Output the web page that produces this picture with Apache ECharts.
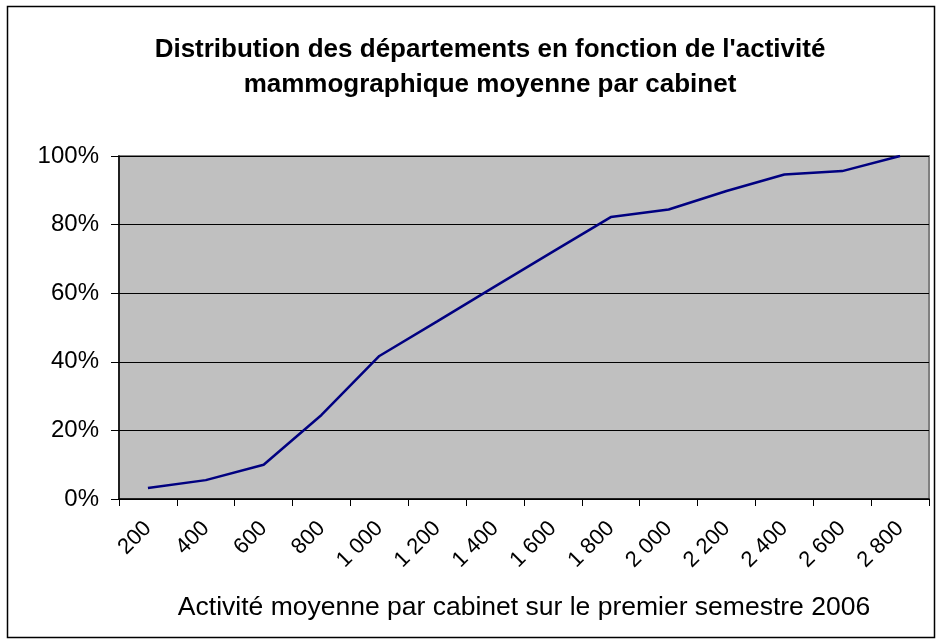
<!DOCTYPE html>
<html>
<head>
<meta charset="utf-8">
<script src="https://cdn.jsdelivr.net/npm/echarts@6/dist/echarts.min.js"></script>
<style>
html,body{margin:0;padding:0;background:#fff;}
#chart{width:938px;height:644px;}
</style>
</head>
<body>
<div id="chart"></div>
<script>
const categories = ['200','400','600','800','1 000','1 200','1 400','1 600','1 800','2 000','2 200','2 400','2 600','2 800'];
const cumulativeShare = [3.2, 5.5, 10.0, 24.5, 41.7, 51.8, 62.0, 72.1, 82.2, 84.4, 89.8, 94.6, 95.6, 100];
const yTicks = [0, 20, 40, 60, 80, 100];
const titleText = "Distribution des départements en fonction de l'activité\nmammographique moyenne par cabinet";
const xAxisTitle = 'Activité moyenne par cabinet sur le premier semestre 2006';

const chart = echarts.init(document.getElementById('chart'), null, {renderer: 'canvas'});
const FONT = 'Liberation Sans, Arial, sans-serif';
chart.setOption({
  animation: false,
  backgroundColor: '#ffffff',
  graphic: [{
    type: 'rect',
    shape: {x: 7.5, y: 6.5, width: 927, height: 631},
    style: {fill: 'none', stroke: '#000', lineWidth: 1.5},
    z: -1
  }],
  title: {
    text: titleText,
    left: 485,
    top: 27,
    textAlign: 'center',
    textStyle: {fontFamily: FONT, fontSize: 26, fontWeight: 'bold', color: '#000', lineHeight: 35}
  },
  grid: {
    left: 119, right: 9, top: 156, bottom: 145,
    show: true, backgroundColor: '#C0C0C0', borderColor: '#808080', borderWidth: 2,
    containLabel: false
  },
  xAxis: {
    type: 'category',
    data: categories,
    boundaryGap: true,
    name: xAxisTitle,
    nameLocation: 'middle',
    nameGap: 95,
    nameTextStyle: {fontFamily: FONT, fontSize: 26.5, color: '#000'},
    axisLine: {show: true, lineStyle: {color: '#000', width: 1.5}},
    axisTick: {show: true, length: 7, lineStyle: {color: '#000', width: 1}},
    axisLabel: {rotate: 45, margin: 26, fontFamily: FONT, fontSize: 22, color: '#000', interval: 0},
    splitLine: {show: false}
  },
  yAxis: {
    type: 'value',
    min: yTicks[0], max: yTicks[yTicks.length - 1], interval: 20,
    axisLine: {show: true, lineStyle: {color: '#000', width: 1.5}},
    axisTick: {show: true, length: 8, lineStyle: {color: '#000', width: 1}},
    axisLabel: {formatter: '{value}%', margin: 20, fontFamily: FONT, fontSize: 24, color: '#000'},
    splitLine: {show: true, lineStyle: {color: '#000', width: 1}}
  },
  series: [{
    type: 'line',
    data: cumulativeShare,
    symbol: 'none',
    lineStyle: {color: '#000080', width: 2.5},
    itemStyle: {color: '#000080'}
  }]
});
</script>
</body>
</html>
